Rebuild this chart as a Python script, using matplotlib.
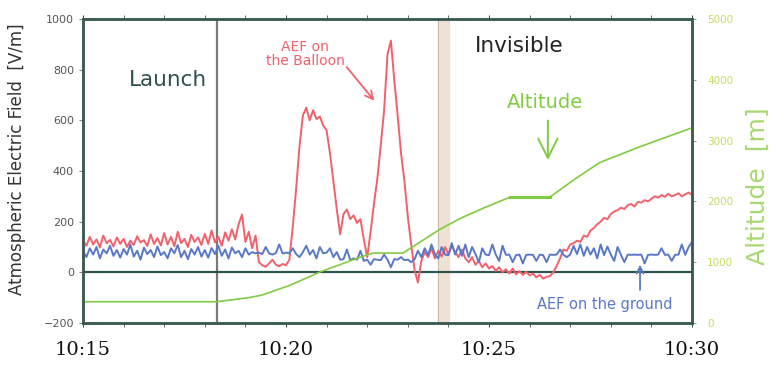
import numpy as np
import matplotlib
matplotlib.use('Agg')
import matplotlib.pyplot as plt

# minutes after 10:15, one sample every 5 s
aef_balloon = [
    125, 105, 140, 110, 130, 98, 145, 115, 128, 102, 138, 112,
    132, 100, 125, 108, 142, 118, 127, 104, 150, 112, 135, 106,
    155, 110, 140, 103, 160, 115, 132, 100, 148, 120, 138, 108,
    152, 112, 165, 118, 140, 105, 158, 125, 170, 130, 190, 228,
    120, 160, 95, 145, 40, 28, 22, 35, 50, 30, 24, 33,
    28, 50, 180, 330, 500, 620, 650, 600, 640, 605, 615, 580,
    560, 470, 360, 250, 150, 230, 248, 210, 225, 195, 210, 130,
    60, 160, 270, 370, 500, 640, 860, 915, 760, 620, 470, 360,
    220, 110, 10, -40, 45, 80, 60, 95, 55, 85, 62, 100,
    70, 105, 80, 60, 90, 55, 40, 60, 30, 45, 20, 35,
    15, 25, 5, 20, 0, 12, -5, 15, -8, 5, -10, 2,
    -12, -5, -20, -10, -25, -18, -15, 0, 25, 55, 90, 85,
    110, 115, 125, 120, 145, 140, 165, 175, 190, 200, 215, 210,
    230, 240, 245, 255, 250, 265, 270, 260, 278, 275, 285, 280,
    290, 300, 295, 305, 298, 310, 300, 305, 312, 300, 308, 315,
    306,
]
aef_ground = [
    85, 60, 95, 70, 100, 55, 90, 75, 105, 65, 88, 58,
    92, 70, 110, 62, 85, 50, 98, 72, 88, 60, 102, 68,
    80, 55, 95, 75, 108, 60, 85, 52, 92, 70, 100, 62,
    88, 58, 96, 72, 105, 65, 90, 55, 98, 75, 85, 60,
    95, 70, 80, 75, 78, 72, 100, 75, 70, 76, 110, 74,
    78, 75, 95, 72, 60, 80, 105, 70, 88, 55, 100, 75,
    78, 95, 60, 80, 50, 52, 90, 48, 55, 50, 85, 45,
    50, 30, 52, 50, 48, 70, 50, 20, 52, 50, 60, 48,
    50, 40, 52, 85, 60, 95, 68, 110, 72, 55, 100, 70,
    68, 115, 70, 105, 65, 110, 60, 100, 72, 40, 95, 70,
    68, 110, 70, 45, 105, 69, 70, 40, 68, 70, 35, 69,
    70, 69, 45, 70, 68, 40, 70, 69, 70, 90, 69, 60,
    70, 105, 72, 110, 65, 100, 70, 95, 55, 110, 68, 102,
    70, 45, 100, 69, 40, 70, 69, 70, 69, 70, 35, 69,
    70, 69, 70, 95, 69, 70, 45, 69, 70, 110, 69, 100,
    120,
]
t_aef = np.arange(len(aef_balloon)) / 12.0

alt_t = [0, 3.30, 4.11, 4.41, 5.10, 5.84, 6.45, 6.90, 7.14, 7.88, 8.30, 8.79,
         9.29, 9.90, 10.52, 11.50, 12.12, 12.73, 13.72, 15.0]
alt_m = [350, 350, 420, 460, 620, 840, 990, 1100, 1150, 1150, 1330, 1540,
         1720, 1900, 2070, 2070, 2370, 2640, 2900, 3210]

launch_t = 3.3
invisible = (8.75, 9.02)
xticks = [0, 5, 10, 15]
xtick_labels = ['10:15', '10:20', '10:25', '10:30']

RED = '#f2606c'
BLUE = '#5a78c8'
GREEN = '#80cc40'
FRAME = '#3c5a52'

fig = plt.figure(figsize=(7.79, 3.66), dpi=100)
ax = fig.add_axes([83/779, 1-323/366, 609/779, 304/366])
ax2 = ax.twinx()

ax.axvspan(*invisible, color='#efe2d4', zorder=0)
ax.axvline(invisible[0], color='#c8bcb0', lw=0.8, zorder=0)
ax.axvline(launch_t, color='#7a7a7a', lw=1.6, zorder=1)
ax.axhline(0, color='#2f5550', lw=1.6, zorder=1)

ax.plot(t_aef, aef_balloon, color=RED, lw=1.4, zorder=3)
ax.plot(t_aef, aef_ground, color=BLUE, lw=1.4, zorder=4)
ax2.plot(alt_t, alt_m, color=GREEN, lw=1.2)
ax2.plot([10.52, 11.50], [2070, 2070], color=GREEN, lw=2.2)

ax.set_xlim(0, 15)
ax.set_ylim(-200, 1000)
ax2.set_ylim(0, 5000)

ax.set_xticks(xticks)
ax.set_xticklabels(xtick_labels, fontsize=14, family='DejaVu Serif', color='#111')
ax.set_xticks(np.arange(0, 16, 1), minor=True)
ax.tick_params(axis='x', which='both', direction='out', length=3, color=FRAME,
               top=True, pad=10)
ax.set_yticks([-200, 0, 200, 400, 600, 800, 1000])
ax.tick_params(axis='y', labelsize=8, labelcolor='#555', length=3, color='#888')
ax2.set_yticks([0, 1000, 2000, 3000, 4000, 5000])
ax2.tick_params(axis='y', labelsize=7.5, labelcolor='#c8d860', length=3,
                color='#999', pad=8)

for a in (ax, ax2):
    for s in a.spines.values():
        s.set_color(FRAME)
        s.set_linewidth(1.8)

ax.set_ylabel('Atmospheric Electric Field  [V/m]', fontsize=12, color='#333')
ax.yaxis.set_label_coords(-0.094, 0.54)
ax2.set_ylabel('Altitude  [m]', fontsize=18, color='#a8d870')
ax2.yaxis.set_label_coords(1.088, 0.45)

ax.text(2.1, 760, 'Launch', fontsize=15.5, color='#2f4f4a', ha='center', va='center')
ax.text(10.74, 894, 'Invisible', fontsize=15.5, color='#222', ha='center', va='center')
ax.text(5.47, 860, 'AEF on\nthe Balloon', fontsize=10, color=RED, ha='center',
        va='center', linespacing=1.0)
ax.annotate('', xy=(7.22, 669), xytext=(6.45, 819),
            arrowprops=dict(arrowstyle='->', color=RED, lw=1.3, mutation_scale=14))
ax.text(11.38, 669, 'Altitude', fontsize=14, color=GREEN, ha='center', va='center')
ax.annotate('', xy=(11.45, 432), xytext=(11.45, 610),
            arrowprops=dict(arrowstyle='->,head_length=1.0,head_width=0.5',
                            color=GREEN, lw=1.4, mutation_scale=14))
ax.text(12.86, -128, 'AEF on the ground', fontsize=10.5, color=BLUE, ha='center', va='center')
ax.annotate('', xy=(13.72, 41), xytext=(13.72, -80),
            arrowprops=dict(arrowstyle='->', color=BLUE, lw=1.3, mutation_scale=12))

fig.savefig('out.png', dpi=100)
